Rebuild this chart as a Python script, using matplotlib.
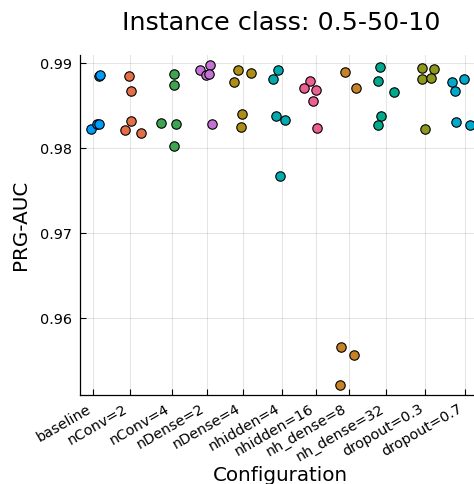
import matplotlib
matplotlib.use("Agg")
import matplotlib.pyplot as plt
import numpy as np

configs = ["baseline", "nConv=2", "nConv=4", "nDense=2", "nDense=4", "nhidden=4",
           "nhidden=16", "nh_dense=8", "nh_dense=32", "dropout=0.3", "dropout=0.7"]
tick_pos = [1.000, 1.995, 3.132, 4.054, 5.022, 6.081, 7.003, 7.871, 8.892, 9.941, 11.000]
colors = ["#009AFA", "#E36F47", "#3EA44E", "#C371D2", "#AC8E18", "#00AAAE",
          "#ED5E93", "#C68225", "#00A98D", "#8E971E", "#00A8CB"]

jitter = [
    [0.15, 0.18, -0.05, 0.11, 0.15],
    [-0.03, 0.03, 0.02, -0.15, 0.30],
    [0.03, 0.03, -0.30, 0.10, 0.05],
    [-0.18, 0.10, -0.03, 0.07, 0.13],
    [-0.12, 0.23, -0.24, -0.03, -0.05],
    [-0.12, -0.23, -0.16, 0.09, -0.05],
    [-0.18, -0.33, -0.02, -0.09, 0.03],
    [-0.10, 0.19, -0.20, 0.14, -0.24],
    [-0.18, -0.22, 0.20, -0.16, -0.23],
    [-0.10, 0.22, -0.10, 0.15, -0.01],
    [-0.35, -0.01, -0.26, -0.23, 0.14],
]
prg_auc = [
    [0.98856, 0.98865, 0.98234, 0.98285, 0.98293],
    [0.98854, 0.98674, 0.98320, 0.98218, 0.98187],
    [0.98874, 0.98748, 0.98297, 0.98293, 0.98029],
    [0.98921, 0.98986, 0.98862, 0.98874, 0.98289],
    [0.98925, 0.98882, 0.98776, 0.98403, 0.98250],
    [0.98918, 0.98815, 0.98379, 0.98340, 0.97673],
    [0.98788, 0.98709, 0.98682, 0.98559, 0.98241],
    [0.98894, 0.98706, 0.95662, 0.95568, 0.95211],
    [0.98953, 0.98795, 0.98662, 0.98383, 0.98277],
    [0.98941, 0.98929, 0.98815, 0.98830, 0.98226],
    [0.98776, 0.98812, 0.98674, 0.98312, 0.98270],
]
y_ticks = [0.96, 0.97, 0.98, 0.99]

W, H = 474, 484
fig = plt.figure(figsize=(W / 100, H / 100), dpi=100)
ax = fig.add_axes([80 / W, (H - 395) / H, (481.4 - 80) / W, (395 - 55) / H])

allx, ally = [], []
for i, name in enumerate(configs):
    xs = [tick_pos[i] + j for j in jitter[i]]
    ys = prg_auc[i]
    allx += xs
    ally += ys
    ax.scatter(xs, ys, s=46, color=colors[i], edgecolors="black", linewidths=0.8, zorder=3,
               clip_on=True)

xr = max(allx) - min(allx)
yr = max(ally) - min(ally)
ax.set_xlim(min(allx) - 0.03 * xr, max(allx) + 0.03 * xr)
ax.set_ylim(min(ally) - 0.03 * yr, max(ally) + 0.03 * yr)

ax.set_xticks(tick_pos)
ax.set_xticklabels(configs, rotation=30, ha="right", fontsize=10.4)
ax.set_yticks(y_ticks)
ax.set_yticklabels([f"{v:.2f}" for v in y_ticks], fontsize=10.4)
ax.tick_params(direction="in", length=4, width=0.8, color="black", pad=6)
ax.tick_params(axis="x", pad=5)
ax.grid(True, color="black", alpha=0.1, linewidth=0.8)
ax.set_axisbelow(True)
for side in ["top", "right"]:
    ax.spines[side].set_visible(False)
for side in ["left", "bottom"]:
    ax.spines[side].set_color("black")
    ax.spines[side].set_linewidth(0.9)

ax.set_xlabel("Configuration", fontsize=14.3, labelpad=1.5)
ax.set_ylabel("PRG-AUC", fontsize=14.3, labelpad=7)
ax.set_title("Instance class: 0.5-50-10", fontsize=18.3, pad=18)

fig.savefig("out.png", dpi=100)
